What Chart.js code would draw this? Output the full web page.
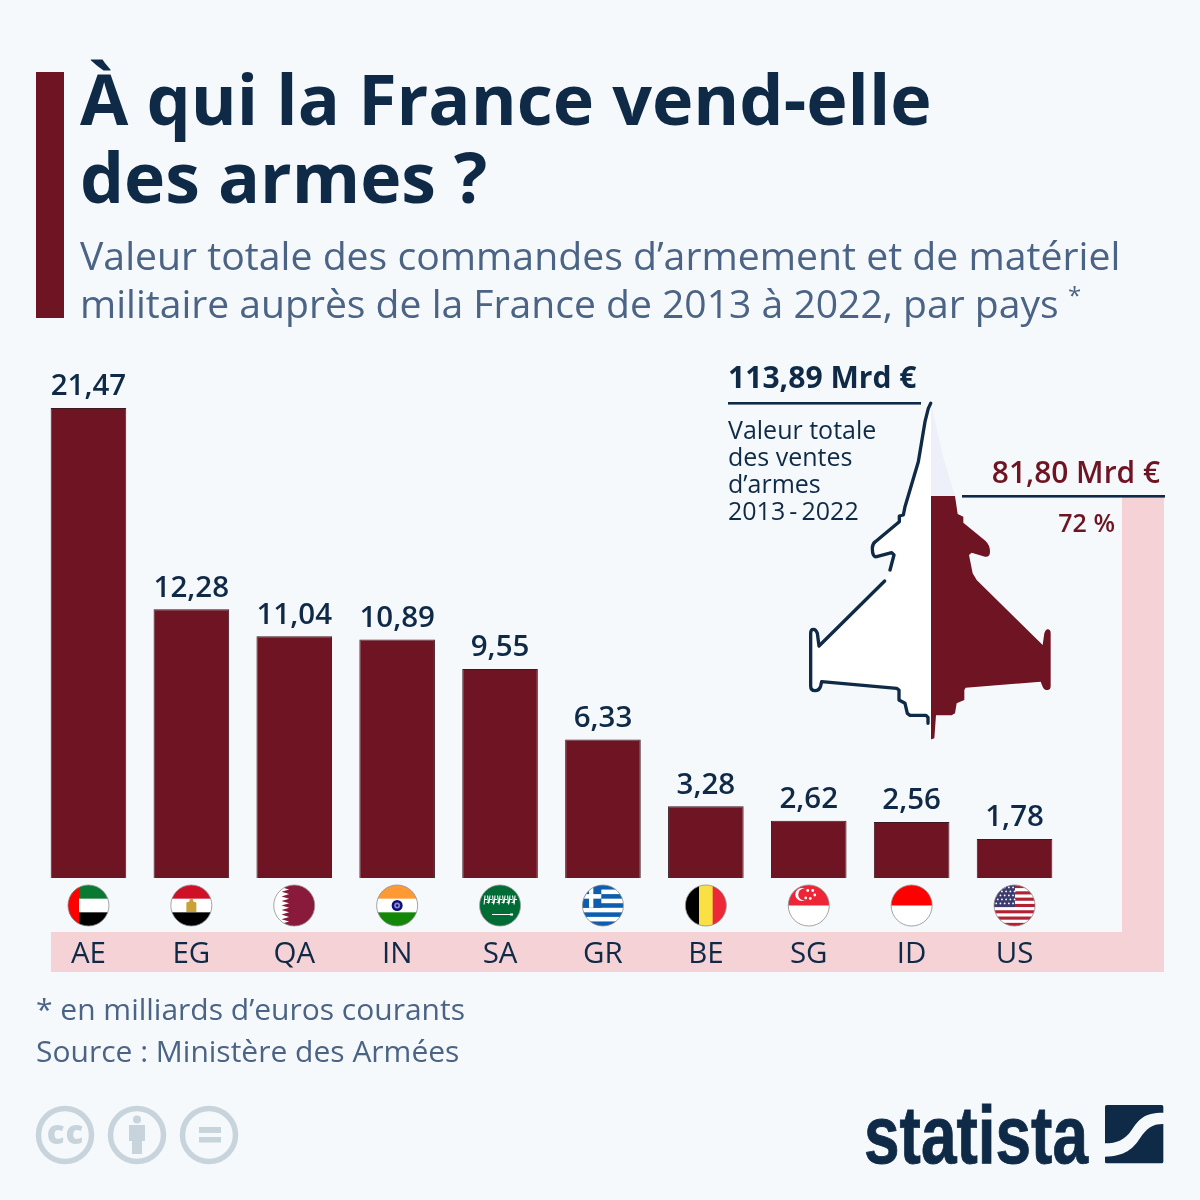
<!DOCTYPE html>
<html lang="fr"><head><meta charset="utf-8">
<script src="https://cdn.jsdelivr.net/npm/chart.js@4"></script>
<style>
html,body{margin:0;padding:0;background:#f6f9fc;}
#wrap{position:relative;width:1200px;height:1200px;overflow:hidden;}
canvas{position:absolute;left:0;top:0;}
svg{position:absolute;left:0;top:0;}
text{font-family:"Open Sans",sans-serif;}
</style></head><body>
<div id="wrap">
<canvas id="c" width="1200" height="1200"></canvas>
<svg width="1200" height="1200" viewBox="0 0 1200 1200">
  <rect x="36" y="72" width="28" height="246" fill="#6e1423"/>
  <text x="80" y="125" font-size="70" font-weight="700" fill="#0f2a47">À qui la France vend-elle</text>
  <text x="80" y="203" font-size="69.7" font-weight="700" fill="#0f2a47">des armes ?</text>
  <text x="80" y="270" font-size="39.2" fill="#4b6485">Valeur totale des commandes d’armement et de matériel</text>
  <text x="80" y="318" font-size="39.1" fill="#4b6485">militaire auprès de la France de 2013 à 2022, par pays</text>
  <text x="1068" y="304" font-size="24" fill="#4b6485">*</text>

  <g transform="translate(800 360) scale(.33333)">
    <path fill="#ffffff" d="M393 130 L375 180 L355 300 L315 440 L310 465 L298 468 L298 485 L222 548 L215 565 L218 590 L275 578 L282 585 L270 630 L257 660 L57 858 L52 815 L40 808 L32 815 L32 985 L45 992 L60 985 L65 965 L290 985 L297 990 L297 1020 L315 1030 L322 1060 L330 1066 L378 1066 L384 1090 L393 1138 Z"/>
    <path fill="#edf0f8" d="M393 130 L432 300 L465 408 L393 408 Z"/>
    <path fill="#6e1423" d="M393 408 L465 408 L473 462 L490 470 L490 488 L556 542 Q570 555 570 575 Q570 592 555 590 L515 578 L507 585 L518 640 L530 660 L728 855 L733 820 Q737 808 743 808 Q752 808 752 820 L752 978 Q752 990 742 990 Q732 990 728 980 L722 965 L497 983 L493 990 L493 1020 L470 1030 L465 1060 L455 1066 L408 1066 L403 1135 L395 1138 L393 1138 Z"/>
    <g fill="none" stroke="#0f2a47" stroke-width="10" stroke-linecap="round" stroke-linejoin="round">
      <path d="M392 130 L385 145 L375 185 L365 245 L355 305 L315 440 L310 465 L298 468 L298 485 L226 545 Q217 552 217 565 Q217 592 230 590 L275 578 L282 585 L270 630"/>
      <path d="M254 663 L57 858 L52 820 Q48 808 40 808 Q32 808 32 820 L32 978 Q32 992 45 992 Q58 992 62 978 L65 965 L290 985 L297 990 L297 1020 L315 1030 L322 1060 L330 1066 L378 1066 L384 1072 L384 1090"/>
    </g>
  </g>

  <rect x="728" y="402" width="193" height="2.6" fill="#0f2a47"/>
  <rect x="962" y="495" width="203" height="2.6" fill="#0f2a47"/>
  <text x="728" y="388" font-size="30.1" font-weight="700" fill="#0f2a47">113,89 Mrd €</text>
  <g font-size="25" fill="#0f2a47">
    <text x="728" y="439">Valeur totale</text>
    <text x="728" y="466">des ventes</text>
    <text x="728" y="493">d’armes</text>
    <text x="728" y="520">2013&#8201;-&#8201;2022</text>
  </g>
  <text x="1160" y="483" font-size="29.9" font-weight="600" text-anchor="end" fill="#6e1423">81,80 Mrd €</text>
  <text x="1115" y="532" font-size="25" font-weight="600" text-anchor="end" fill="#6e1423">72 %</text>

  <text x="36" y="1020" font-size="30" fill="#4b6485">* en milliards d’euros courants</text>
  <text x="36" y="1062" font-size="30" fill="#4b6485">Source : Ministère des Armées</text>

  <g fill="none" stroke="#c8d4dc" stroke-width="5.5">
    <circle cx="65" cy="1135" r="26.5"/><circle cx="137" cy="1135" r="26.5"/><circle cx="209" cy="1135" r="26.5"/>
  </g>
  <text x="65.5" y="1144" font-size="33" font-weight="800" fill="#c8d4dc" text-anchor="middle" letter-spacing="1">cc</text>
  <g fill="#c8d4dc">
    <circle cx="137" cy="1119.5" r="4"/>
    <path d="M129 1125 H145 V1141 H142 V1154 H132 V1141 H129 Z"/>
    <rect x="199" y="1127" width="22" height="6"/><rect x="199" y="1137" width="22" height="5.5"/>
  </g>

  <text id="brand" x="864" y="1163" font-size="82" font-weight="700" fill="#0f2a47" stroke="#0f2a47" stroke-width="0.9" style="font-family:'Liberation Sans Narrow','Liberation Sans',sans-serif" textLength="224" lengthAdjust="spacingAndGlyphs">statista</text>
  <g fill="#0f2a47" transform="translate(850 1090) scale(.33333)">
    <path d="M770 45 H935 Q940 45 940 50 V68 C880 68 865 90 845 120 C825 150 800 160 765 160 V50 Q765 45 770 45 Z"/>
    <path d="M940 102 V215 Q940 220 935 220 H770 Q765 220 765 215 V200 C825 200 850 175 870 145 C890 115 905 102 940 102 Z"/>
  </g>
</svg>
</div>
<script>
const categories = ["AE","EG","QA","IN","SA","GR","BE","SG","ID","US"];
const values = [21.47,12.28,11.04,10.89,9.55,6.33,3.28,2.62,2.56,1.78];
const MAROON = "#6e1423", NAVY = "#0f2a47", PINK = "#f5d2d6";

function stripesH(ctx,x,y,r,cols){const h=2*r/cols.length;cols.forEach((c,i)=>{ctx.fillStyle=c;ctx.fillRect(x-r,y-r+i*h,2*r,h+.5);});}
function stripesV(ctx,x,y,r,cols){const w=2*r/cols.length;cols.forEach((c,i)=>{ctx.fillStyle=c;ctx.fillRect(x-r+i*w,y-r,w+.5,2*r);});}
const flags = {
  AE(ctx,x,y,r){stripesH(ctx,x,y,r,["#0a7a33","#ffffff","#000000"]);ctx.fillStyle="#ff0000";ctx.fillRect(x-r,y-r,r*.54,2*r);},
  EG(ctx,x,y,r){stripesH(ctx,x,y,r,["#ce1126","#ffffff","#000000"]);ctx.fillStyle="#c9a136";
    ctx.beginPath();ctx.moveTo(x-1.5,y-6.5);ctx.lineTo(x+1.5,y-6.5);ctx.lineTo(x+2,y-4);ctx.lineTo(x+5,y-3);ctx.lineTo(x+5,y+6.5);ctx.lineTo(x-5,y+6.5);ctx.lineTo(x-5,y-3);ctx.lineTo(x-2,y-4);ctx.closePath();ctx.fill();},
  QA(ctx,x,y,r){ctx.fillStyle="#ffffff";ctx.fillRect(x-r,y-r,2*r,2*r);ctx.fillStyle="#8a1a3c";ctx.beginPath();const n=9,ex=x-r*.62,tx=x-r*.25;ctx.moveTo(x+r,y-r);ctx.lineTo(tx,y-r);
    for(let i=0;i<n;i++){const h=2*r/n,t=y-r+i*h;ctx.lineTo(ex,t+h/2);ctx.lineTo(tx,t+h);}ctx.lineTo(x+r,y+r);ctx.closePath();ctx.fill();},
  IN(ctx,x,y,r){stripesH(ctx,x,y,r,["#ff9933","#ffffff","#138808"]);ctx.fillStyle="#10107a";ctx.beginPath();ctx.arc(x,y,5.5,0,7);ctx.fill();ctx.fillStyle="#8a8ad0";ctx.beginPath();ctx.arc(x,y,3,0,7);ctx.fill();ctx.fillStyle="#10107a";ctx.beginPath();ctx.arc(x,y,1.2,0,7);ctx.fill();},
  SA(ctx,x,y,r){ctx.fillStyle="#006c35";ctx.fillRect(x-r,y-r,2*r,2*r);ctx.strokeStyle="#ffffff";ctx.lineWidth=1.1;
    ctx.beginPath();
    const sq=[-15,-12.5,-10,-7.5,-5,-2.5,0,2.5,5,7.5,10,12.5,15];
    sq.forEach((d,i)=>{ctx.moveTo(x+d,y-10);ctx.lineTo(x+d+(i%2?1:-1),y-1-(i%3));ctx.moveTo(x+d-1,y-6+(i%2)*3);ctx.lineTo(x+d+2,y-6+(i%2)*3);});
    ctx.stroke();ctx.lineWidth=1.2;ctx.beginPath();ctx.moveTo(x-8,y+9);ctx.lineTo(x+12,y+9);ctx.stroke();ctx.fillStyle="#fff";ctx.fillRect(x+10,y+8,3,2);},
  GR(ctx,x,y,r){const B="#0d5eaf";const cols=[];for(let i=0;i<9;i++)cols.push(i%2?"#ffffff":B);stripesH(ctx,x,y,r,cols);
    const h=2*r/9;ctx.fillStyle=B;ctx.fillRect(x-r,y-r,r*.92,5*h);ctx.fillStyle="#fff";ctx.fillRect(x-r,y-r+2*h,r*.92,h);ctx.fillRect(x-r+r*.32,y-r,h*.95,5*h);},
  BE(ctx,x,y,r){stripesV(ctx,x,y,r,["#000000","#fae042","#ed2939"]);},
  SG(ctx,x,y,r){stripesH(ctx,x,y,r,["#ee2536","#ffffff"]);ctx.fillStyle="#fff";ctx.beginPath();ctx.arc(x-7,y-11,6.5,0,7);ctx.fill();ctx.fillStyle="#ee2536";ctx.beginPath();ctx.arc(x-4.5,y-11,6,0,7);ctx.fill();ctx.fillStyle="#fff";
    [[-1,-15],[4,-15],[6,-10.5],[1.5,-7],[-3,-7.5]].forEach(p=>{ctx.beginPath();ctx.arc(x+p[0],y+p[1],1.4,0,7);ctx.fill();});},
  ID(ctx,x,y,r){stripesH(ctx,x,y,r,["#ff0000","#ffffff"]);},
  US(ctx,x,y,r){const cols=[];for(let i=0;i<13;i++)cols.push(i%2?"#ffffff":"#b22234");stripesH(ctx,x,y,r,cols);ctx.fillStyle="#3c3b6e";ctx.fillRect(x-r,y-r,r*1.02,2*r*7/13);ctx.fillStyle="#fff";
    for(let j=0;j<5;j++)for(let i=0;i<5;i++){ctx.beginPath();ctx.arc(x-r+2.2+i*4.2+(j%2?1.5:0),y-r+2.4+j*4,.9,0,7);ctx.fill();}}
};

const decor = {
  id:"decor",
  beforeDraw(chart){
    const ctx=chart.ctx,xs=chart.scales.x;
    ctx.save();ctx.fillStyle=PINK;
    ctx.fillRect(xs.getPixelForValue(0)-37.5,932,1113,40);
    ctx.fillRect(1122,497,42,475);
    ctx.restore();
  },
  afterDatasetsDraw(chart){
    const ctx=chart.ctx,meta=chart.getDatasetMeta(0);
    ctx.save();
    meta.data.forEach((bar,i)=>{
      ctx.font='600 29.5px "Open Sans"';ctx.fillStyle=NAVY;ctx.textAlign="center";ctx.textBaseline="alphabetic";
      ctx.fillText(values[i].toFixed(2).replace(".",","),bar.x,bar.y-12.6);
      const cx=bar.x,cy=905.5,r=20.5;
      ctx.save();ctx.beginPath();ctx.arc(cx,cy,r,0,Math.PI*2);ctx.clip();flags[categories[i]](ctx,cx,cy,r);ctx.restore();
      ctx.strokeStyle="#8d8d8d";ctx.lineWidth=.8;ctx.beginPath();ctx.arc(cx,cy,r,0,Math.PI*2);ctx.stroke();
    });
    ctx.restore();
  }
};

new Chart(document.getElementById("c"),{
  type:"bar",
  data:{labels:categories,datasets:[{data:values,backgroundColor:MAROON,borderColor:"#3d1a22",borderWidth:1,barPercentage:75.6/102.9,categoryPercentage:1}]},
  plugins:[decor],
  options:{
    responsive:false,animation:false,devicePixelRatio:1,
    layout:{padding:{left:37,right:134,top:408,bottom:0}},
    plugins:{legend:{display:false},tooltip:{enabled:false},title:{display:false}},
    scales:{
      y:{display:false,min:0,max:21.47},
      x:{grid:{display:false},border:{display:false},
         afterFit(s){s.height=322;},
         ticks:{color:NAVY,font:{family:'"Open Sans"',size:29.5,lineHeight:1.2},padding:51,maxRotation:0,autoSkip:false}}
    }
  }
});
</script>
</body></html>
